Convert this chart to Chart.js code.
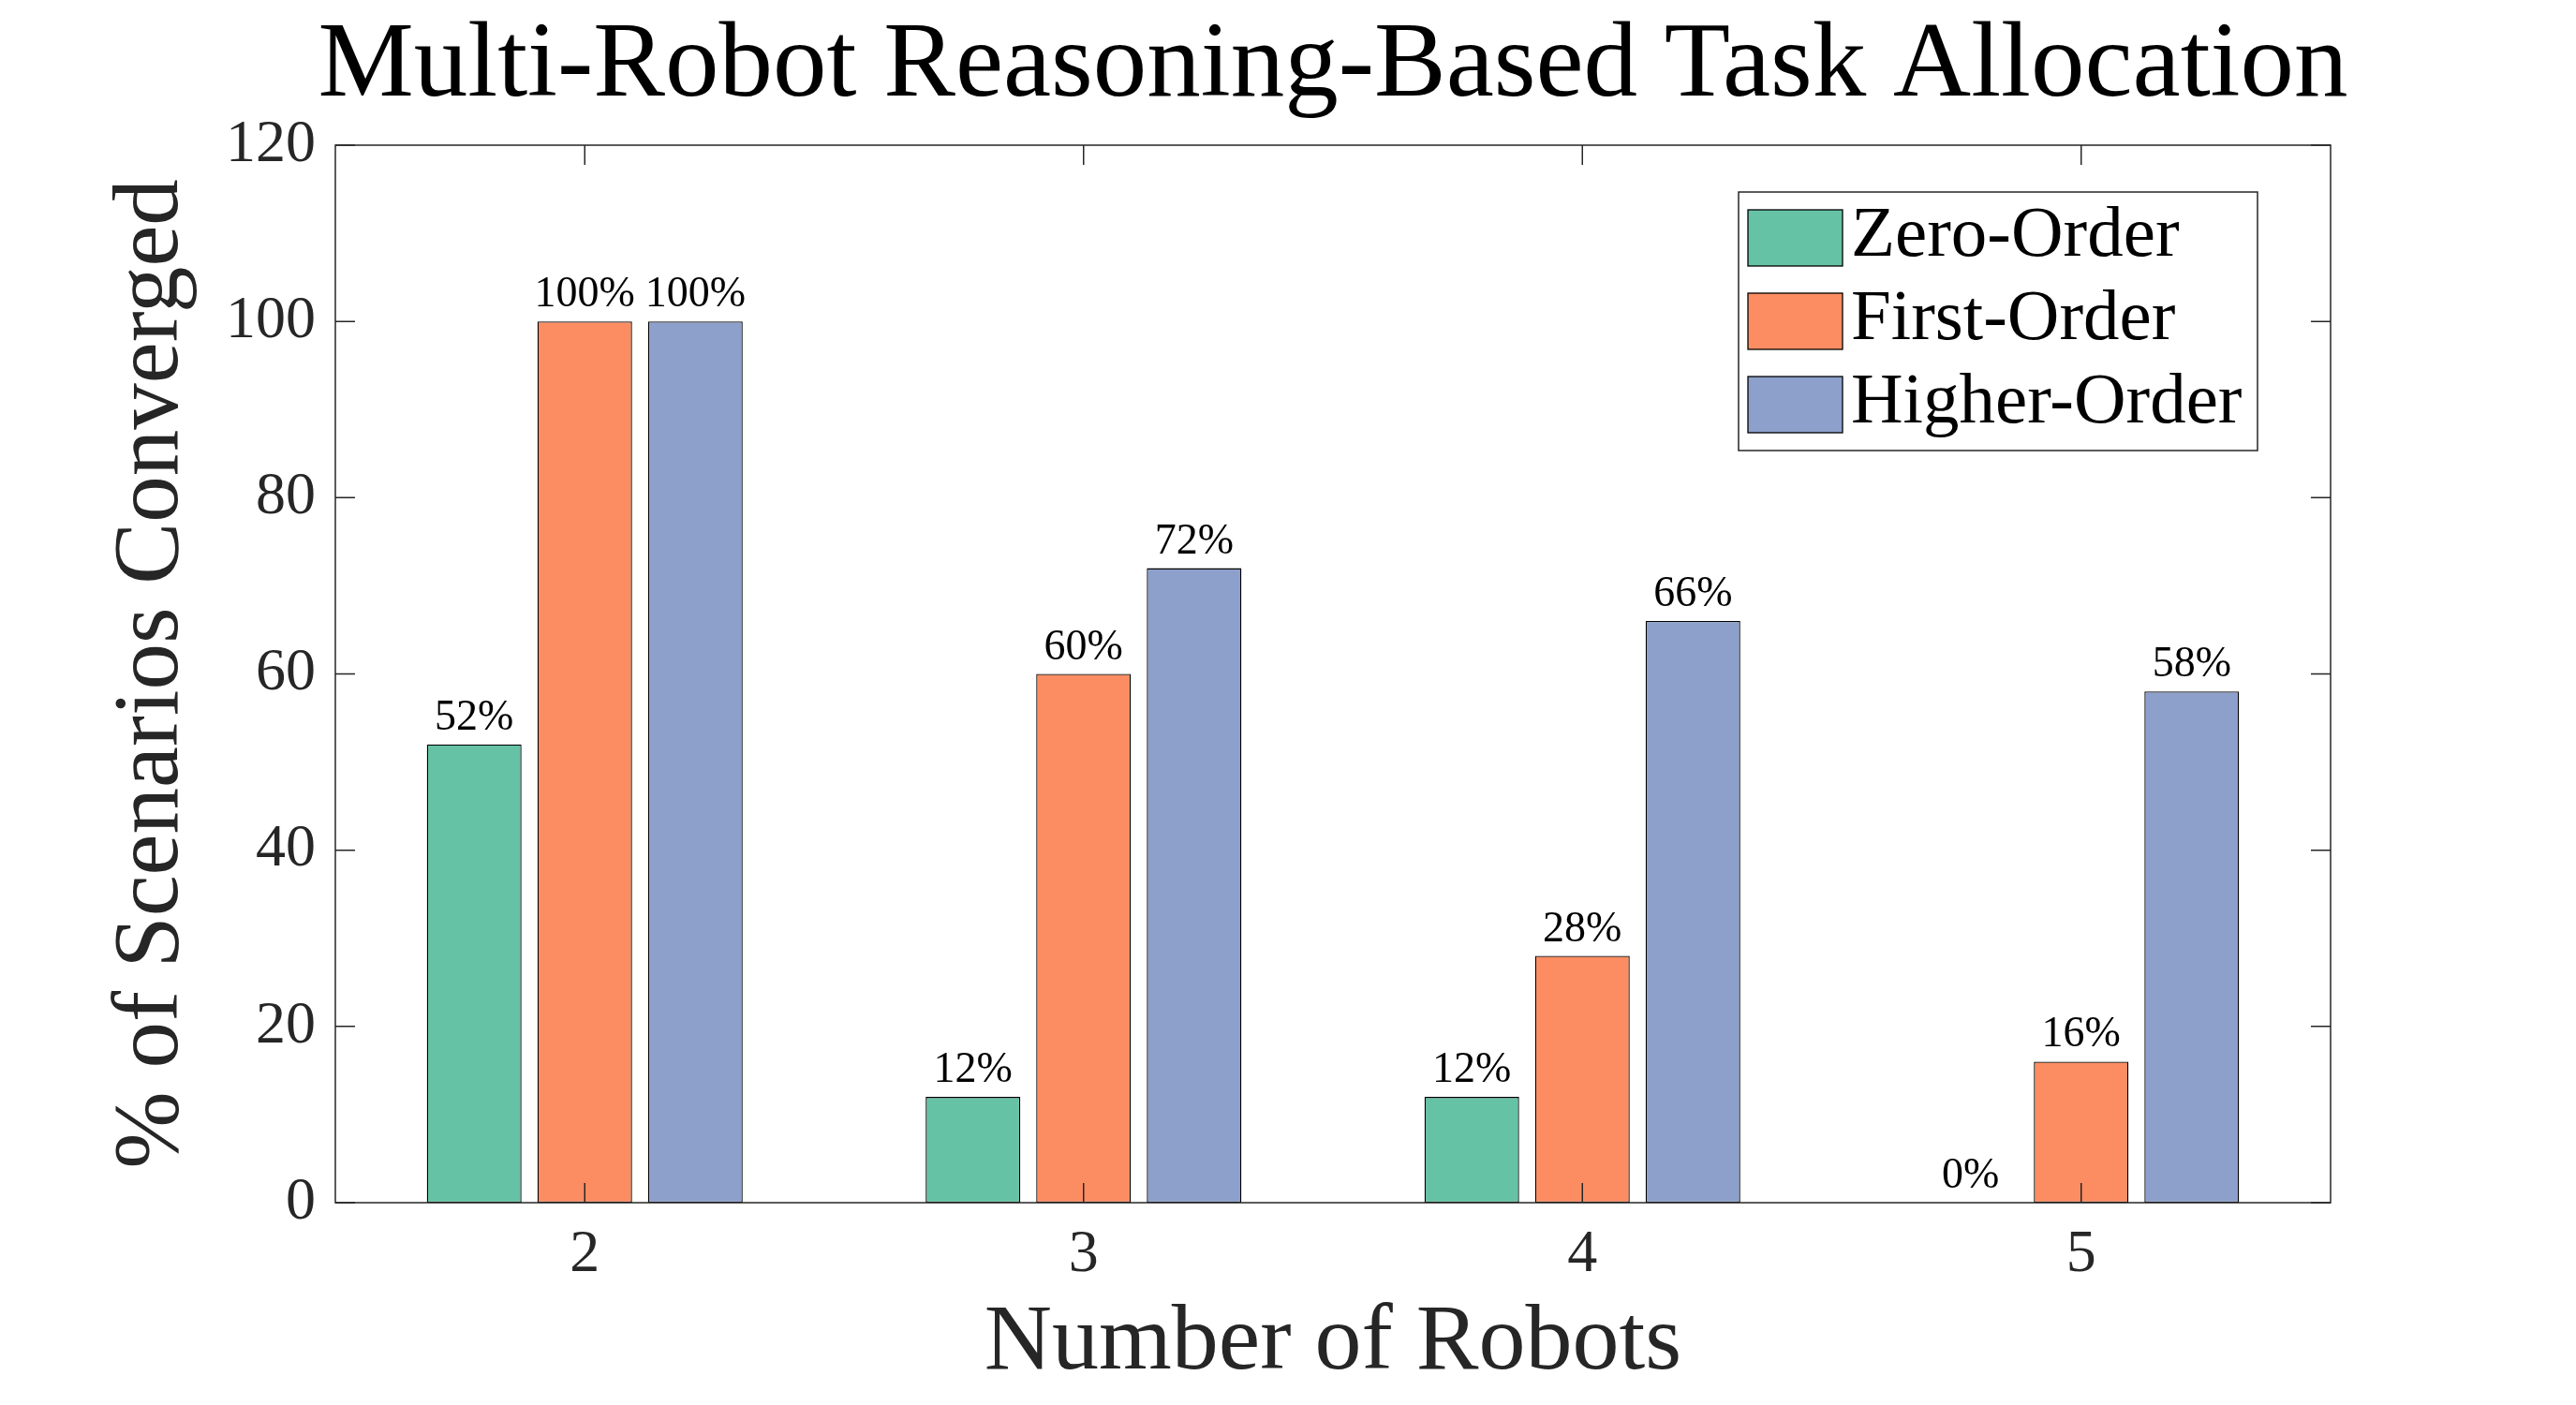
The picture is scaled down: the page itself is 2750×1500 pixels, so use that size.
<!DOCTYPE html>
<html>
<head>
<meta charset="utf-8">
<title>Multi-Robot Reasoning-Based Task Allocation</title>
<script src="https://cdn.jsdelivr.net/npm/chart.js@4.4.1/dist/chart.umd.min.js"></script>
<style>
  html, body { margin: 0; padding: 0; background: #fff; }
  canvas { display: block; }
</style>
</head>
<body>
<canvas id="chart" width="2750" height="1500"></canvas>
<script>
// data
const robots = [2, 3, 4, 5];
const seriesNames = ["Zero-Order", "First-Order", "Higher-Order"];
const zeroOrder = [52, 12, 12, 0];
const firstOrder = [100, 60, 28, 16];
const higherOrder = [100, 72, 66, 58];
const yTicks = [0, 20, 40, 60, 80, 100, 120];
const colors = ["#66c2a5", "#fc8d62", "#8da0cb"];
const chartTitle = "Multi-Robot Reasoning-Based Task Allocation";

const serif = "'Liberation Serif', 'Times New Roman', serif";
const axisColor = "#262626";

function toPoints(values) {
  return values.map((v, i) => ({ x: robots[i], y: v }));
}

const datasets = [zeroOrder, firstOrder, higherOrder].map((vals, i) => ({
  label: seriesNames[i],
  data: toPoints(vals),
  backgroundColor: colors[i],
  borderColor: "#000",
  borderWidth: 1.3,
  borderSkipped: false,
  categoryPercentage: 0.665,
  barPercentage: 0.856
}));

// title centred over the axes; it is wider than the axes, so the
// built-in title (which squeezes to the box width) is not used
const axesTitle = {
  id: "axesTitle",
  afterDraw(chart) {
    const { ctx, chartArea: a } = chart;
    ctx.save();
    ctx.font = "115px " + serif;
    ctx.fillStyle = "#000";
    ctx.textAlign = "center";
    ctx.textBaseline = "middle";
    ctx.fillText(chartTitle, (a.left + a.right) / 2, 72);
    ctx.restore();
  }
};

// box round the axes, with inward ticks on all four sides
const framePlugin = {
  id: "frame",
  afterDatasetsDraw(chart) {
    const { ctx, chartArea: a, scales } = chart;
    const len = 21;
    ctx.save();
    ctx.strokeStyle = axisColor;
    ctx.lineWidth = 1.5;
    ctx.strokeRect(a.left, a.top, a.right - a.left, a.bottom - a.top);
    ctx.beginPath();
    scales.x.ticks.forEach(t => {
      const px = scales.x.getPixelForValue(t.value);
      ctx.moveTo(px, a.bottom); ctx.lineTo(px, a.bottom - len);
      ctx.moveTo(px, a.top); ctx.lineTo(px, a.top + len);
    });
    scales.y.ticks.forEach(t => {
      const py = scales.y.getPixelForValue(t.value);
      ctx.moveTo(a.left, py); ctx.lineTo(a.left + len, py);
      ctx.moveTo(a.right, py); ctx.lineTo(a.right - len, py);
    });
    ctx.stroke();
    ctx.restore();
  }
};

// "52%" etc above each bar
const valueLabels = {
  id: "valueLabels",
  afterDatasetsDraw(chart) {
    const { ctx } = chart;
    ctx.save();
    ctx.font = "46px " + serif;
    ctx.fillStyle = "#000";
    ctx.textAlign = "center";
    ctx.textBaseline = "alphabetic";
    chart.data.datasets.forEach((ds, di) => {
      chart.getDatasetMeta(di).data.forEach((bar, i) => {
        ctx.fillText(ds.data[i].y + "%", bar.x, bar.y - 16);
      });
    });
    ctx.restore();
  }
};

// legend box in the upper right of the axes
const boxLegend = {
  id: "boxLegend",
  afterDraw(chart) {
    const { ctx, chartArea: a } = chart;
    const w = 554, h = 276;
    const left = a.right - 78 - w;
    const top = a.top + 50;
    ctx.save();
    ctx.fillStyle = "#fff";
    ctx.fillRect(left, top, w, h);
    ctx.strokeStyle = axisColor;
    ctx.lineWidth = 1.5;
    ctx.strokeRect(left, top, w, h);
    ctx.font = "77px " + serif;
    ctx.textAlign = "left";
    ctx.textBaseline = "alphabetic";
    chart.data.datasets.forEach((ds, i) => {
      const sy = top + 19 + i * 89;
      ctx.fillStyle = ds.backgroundColor;
      ctx.fillRect(left + 10, sy, 101, 60);
      ctx.strokeStyle = "#000";
      ctx.lineWidth = 1.3;
      ctx.strokeRect(left + 10, sy, 101, 60);
      ctx.fillStyle = "#000";
      ctx.fillText(ds.label, left + 120, sy + 49);
    });
    ctx.restore();
  }
};

new Chart(document.getElementById("chart"), {
  type: "bar",
  data: { datasets },
  options: {
    responsive: false,
    animation: false,
    devicePixelRatio: 1,
    layout: { padding: { left: 0, right: 262, top: 155, bottom: 0 } },
    plugins: {
      legend: { display: false },
      tooltip: { enabled: false },
      title: { display: false }
    },
    scales: {
      x: {
        type: "linear",
        min: 1.5,
        max: 5.5,
        offset: false,
        grid: { display: false, drawTicks: false, tickLength: 0, offset: false },
        border: { display: false },
        afterBuildTicks: scale => { scale.ticks = robots.map(v => ({ value: v })); },
        afterFit: scale => { scale.height = 216; },
        ticks: {
          color: axisColor,
          padding: 24,
          font: { family: serif, size: 64, lineHeight: 1 },
          maxRotation: 0,
          autoSkip: false
        },
        title: {
          display: true,
          text: "Number of Robots",
          color: axisColor,
          font: { family: serif, size: 100, weight: "normal", lineHeight: 1 },
          padding: { top: 0, bottom: 15 }
        }
      },
      y: {
        min: 0,
        max: 120,
        grid: { display: false, drawTicks: false, tickLength: 0 },
        border: { display: false },
        afterBuildTicks: scale => { scale.ticks = yTicks.map(v => ({ value: v })); },
        afterFit: scale => { scale.width = 358; },
        ticks: {
          color: axisColor,
          padding: 21,
          font: { family: serif, size: 64, lineHeight: 1 }
        },
        title: {
          display: true,
          text: "% of Scenarios Converged",
          color: axisColor,
          font: { family: serif, size: 99, weight: "normal", lineHeight: 1 },
          padding: { top: 113, bottom: 0 }
        }
      }
    }
  },
  plugins: [framePlugin, valueLabels, boxLegend, axesTitle]
});
</script>
</body>
</html>
